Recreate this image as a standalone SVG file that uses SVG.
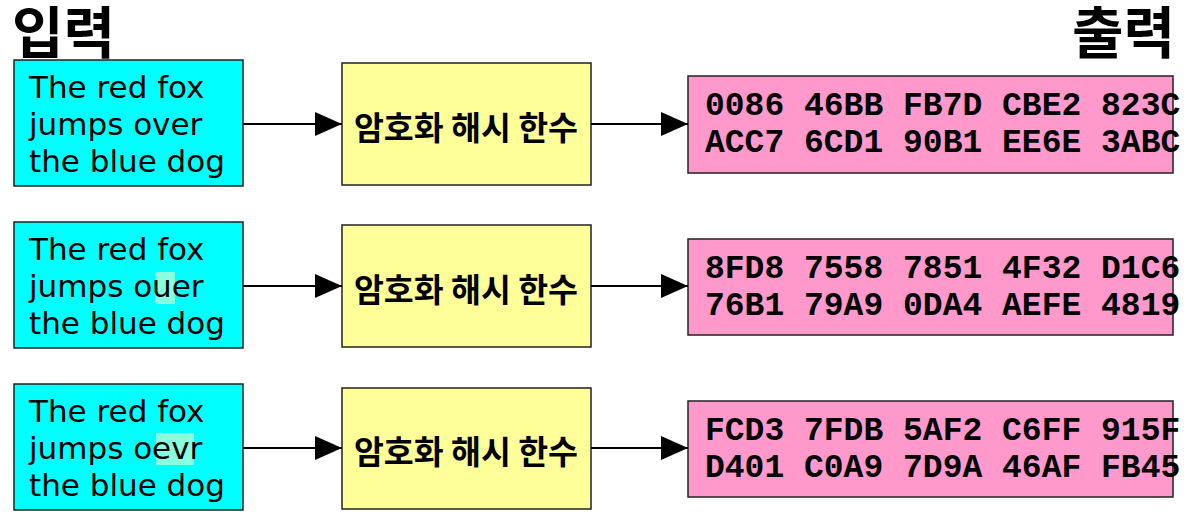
<svg xmlns="http://www.w3.org/2000/svg" width="1194" height="531" viewBox="0 0 1194 531">
<style>
.title{font-family:"Noto Sans CJK KR",sans-serif;font-weight:bold;font-size:56px;fill:#000}
.in rect.box{fill:#00ffff;stroke:#222;stroke-width:1.5}
.in text{font-family:"DejaVu Sans",sans-serif;font-size:31px;fill:#000}
.hl{fill:#88ffdd}
.hash rect{fill:#ffff99;stroke:#222;stroke-width:1.5}
.hash text{font-family:"Noto Sans CJK KR",sans-serif;font-weight:bold;font-size:32.5px;fill:#000;text-anchor:middle}
.out rect{fill:#ff99cc;stroke:#222;stroke-width:1.5}
.out text{font-family:"Liberation Mono",monospace;font-weight:bold;font-size:33px;fill:#000}
.conn line{stroke:#000;stroke-width:2}
</style>
<defs>
<marker id="arr" markerWidth="27" markerHeight="24" refX="27" refY="12" orient="auto" markerUnits="userSpaceOnUse">
<path d="M0,0 L27,12 L0,24 Z" fill="#000"/>
</marker>
</defs>
<rect width="1194" height="531" fill="#fff"/>
<text class="title" x="12" y="53">입력</text>
<text class="title" x="1072" y="53">출력</text>

<g id="input1" class="in">
<rect class="box" x="14" y="60" width="229" height="126"/>
<text x="29" y="98">The red fox</text>
<text x="29" y="135">jumps over</text>
<text x="29" y="172">the blue dog</text>
</g>
<g id="input2" class="in">
<rect class="box" x="14" y="222" width="229" height="126"/>
<rect class="hl" x="155" y="272" width="20" height="32"/>
<text x="29" y="260">The red fox</text>
<text x="29" y="297">jumps ouer</text>
<text x="29" y="334">the blue dog</text>
</g>
<g id="input3" class="in">
<rect class="box" x="14" y="384" width="229" height="126"/>
<rect class="hl" x="156" y="433" width="38" height="32"/>
<text x="29" y="422">The red fox</text>
<text x="29" y="459">jumps oevr</text>
<text x="29" y="496">the blue dog</text>
</g>

<g id="hash1" class="hash">
<rect x="342" y="63" width="249" height="122"/>
<text x="466" y="140">암호화 해시 한수</text>
</g>
<g id="hash2" class="hash">
<rect x="342" y="225" width="249" height="122"/>
<text x="466" y="302">암호화 해시 한수</text>
</g>
<g id="hash3" class="hash">
<rect x="342" y="388" width="249" height="121"/>
<text x="466" y="464">암호화 해시 한수</text>
</g>

<g id="output1" class="out">
<rect x="688" y="76" width="485" height="97"/>
<text x="705" y="115">0086 46BB FB7D CBE2 823C</text>
<text x="705" y="152">ACC7 6CD1 90B1 EE6E 3ABC</text>
</g>
<g id="output2" class="out">
<rect x="688" y="239" width="485" height="96"/>
<text x="705" y="278">8FD8 7558 7851 4F32 D1C6</text>
<text x="705" y="315">76B1 79A9 0DA4 AEFE 4819</text>
</g>
<g id="output3" class="out">
<rect x="688" y="401" width="485" height="96"/>
<text x="705" y="440">FCD3 7FDB 5AF2 C6FF 915F</text>
<text x="705" y="477">D401 C0A9 7D9A 46AF FB45</text>
</g>

<g id="connectors" class="conn">
<line x1="243" y1="124" x2="342" y2="124" marker-end="url(#arr)"/>
<line x1="591" y1="124" x2="688" y2="124" marker-end="url(#arr)"/>
<line x1="243" y1="286" x2="342" y2="286" marker-end="url(#arr)"/>
<line x1="591" y1="286" x2="688" y2="286" marker-end="url(#arr)"/>
<line x1="243" y1="448" x2="342" y2="448" marker-end="url(#arr)"/>
<line x1="591" y1="448" x2="688" y2="448" marker-end="url(#arr)"/>
</g>
</svg>
